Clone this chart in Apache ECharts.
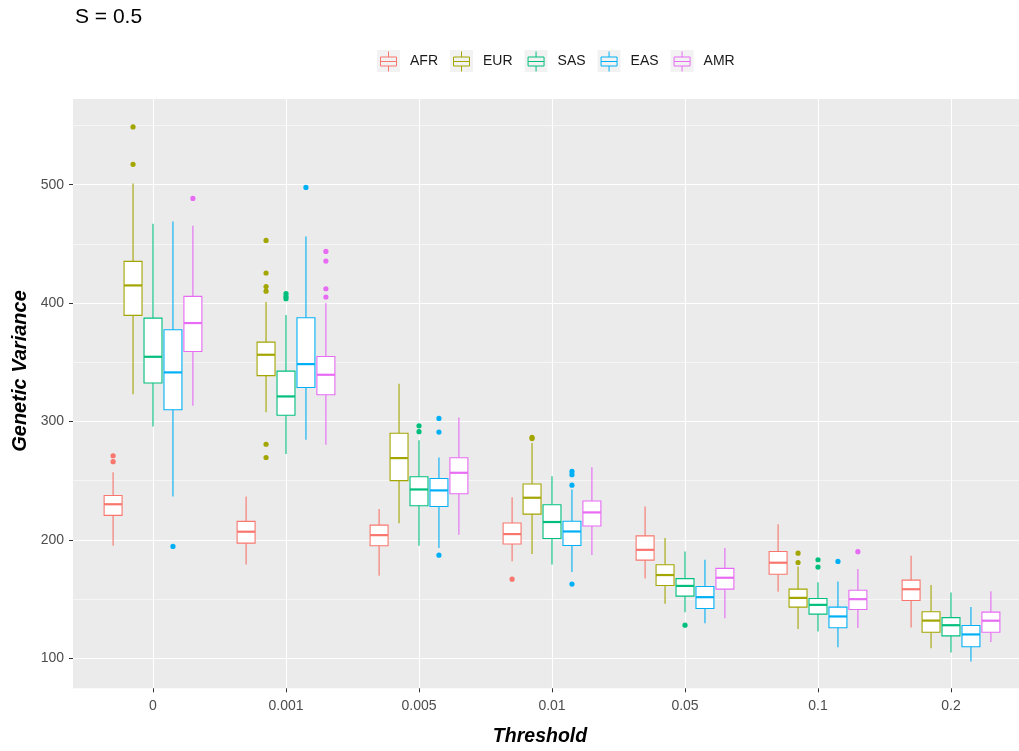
<!DOCTYPE html>
<html><head><meta charset="utf-8">
<script src="https://cdn.jsdelivr.net/npm/echarts@6/dist/echarts.min.js"></script>
<style>html,body{margin:0;padding:0;background:#fff}#c{width:1019px;height:751px}</style>
</head><body><div id="c"></div>
<script>
// ---- data ----
const categories = ['0', '0.001', '0.005', '0.01', '0.05', '0.1', '0.2'];
const groups = ['AFR', 'EUR', 'SAS', 'EAS', 'AMR'];
const colors = ['#F8766D', '#A3A500', '#00BF7D', '#00B0F6', '#E76BF3'];
const yTicks = [100, 200, 300, 400, 500];
const yMinorTicks = [150, 250, 350, 450, 550];

// [lower whisker, Q1, median, Q3, upper whisker] per threshold
const AFR = [
  [195, 220.6, 230, 237.4, 257],
  [179, 197.2, 206.8, 215.5, 236.6],
  [169.6, 194.9, 203.9, 212.4, 225.9],
  [181.8, 196.4, 204.8, 214.1, 236],
  [167.2, 182.8, 191.5, 203.3, 228.1],
  [156.1, 170.8, 180.6, 190.1, 213.1],
  [125.9, 148.7, 158.2, 165.9, 186.5]
];
const EUR = [
  [323, 389.6, 414.9, 435.2, 501],
  [307.8, 338.7, 356.3, 367, 400.9],
  [214, 250, 269, 290, 331.8],
  [187.9, 221.7, 235.5, 247.1, 281.7],
  [145.9, 161.4, 170.2, 178.9, 201.4],
  [124.5, 143.1, 150.9, 158.3, 177.5],
  [108.3, 121.9, 131.7, 139.2, 161.7]
];
const SAS = [
  [295.7, 332.4, 354.6, 387.3, 467],
  [272.4, 305.2, 321.1, 342.5, 389.8],
  [194.9, 228.7, 242.5, 253.3, 284],
  [179.1, 201.1, 215, 229.6, 253.6],
  [138.8, 152.4, 161, 167.2, 190.1],
  [122.4, 137.2, 145, 150.4, 164],
  [104.7, 118.8, 127.8, 134.2, 155.5]
];
const EAS = [
  [236.6, 309.9, 341.4, 377.5, 469],
  [284.5, 328.6, 348.4, 387.6, 456.3],
  [193, 228.1, 241.7, 251.8, 269.6],
  [172.7, 195.2, 207, 215.7, 242.5],
  [129.5, 141.9, 151.5, 160.5, 183.1],
  [109.2, 125.6, 135.2, 143.1, 164.8],
  [97.2, 109.6, 120, 127.6, 143.1]
];
const AMR = [
  [313.2, 359.1, 383.1, 405.6, 465.4],
  [280.3, 322.5, 339.4, 354.9, 400],
  [204.3, 238.9, 256.6, 269.3, 303.4],
  [187.1, 211.6, 223.1, 232.7, 261.3],
  [133.7, 158.3, 167.9, 175.8, 193.1],
  [125.4, 141.1, 149.8, 157.4, 175.2],
  [113.6, 121.9, 131.6, 138.9, 156.6]
];
// outliers: [threshold index, value]
const AFR_out = [[0, 271], [0, 266], [3, 166.7]];
const EUR_out = [[0, 548.8], [0, 517.2], [1, 452.9], [1, 425.4], [1, 414], [1, 410], [1, 280.7], [1, 269.5], [3, 286.5], [3, 285.5], [5, 188.7], [5, 180.8]];
const SAS_out = [[1, 407.9], [1, 405.5], [1, 403.7], [2, 296.3], [2, 291.3], [4, 127.8], [5, 183.1], [5, 176.9]];
const EAS_out = [[0, 194.4], [1, 497.7], [2, 302.5], [2, 291], [2, 187], [3, 257.7], [3, 255], [3, 246.1], [3, 162.6], [5, 181.7]];
const AMR_out = [[0, 488.4], [1, 443.6], [1, 435.5], [1, 412.1], [1, 405.1], [5, 189.9]];

const boxData = [AFR, EUR, SAS, EAS, AMR];
const outData = [AFR_out, EUR_out, SAS_out, EAS_out, AMR_out];

// ---- chart ----
const Y_MIN = 74.5, Y_MAX = 572.4;
const FONT = 'Liberation Sans, Arial, sans-serif';
const DODGE = 0.15, BOXW = 0.135;

function boxRenderer(gi) {
  const col = colors[gi];
  return function (params, api) {
    const cat = api.value(0);
    const band = api.size([1, 0])[0];
    const off = (gi - 2) * DODGE * band;
    const w = BOXW * band;
    const x = api.coord([cat, api.value(3)])[0] + off;
    const yLo = api.coord([cat, api.value(1)])[1];
    const yQ1 = api.coord([cat, api.value(2)])[1];
    const yMed = api.coord([cat, api.value(3)])[1];
    const yQ3 = api.coord([cat, api.value(4)])[1];
    const yHi = api.coord([cat, api.value(5)])[1];
    const ls = { stroke: col, lineWidth: 1.1 };
    return {
      type: 'group',
      children: [
        { type: 'line', shape: { x1: x, y1: yHi, x2: x, y2: yQ3 }, style: ls },
        { type: 'line', shape: { x1: x, y1: yQ1, x2: x, y2: yLo }, style: ls },
        { type: 'rect', shape: { x: x - w / 2, y: yQ3, width: w, height: yQ1 - yQ3 }, style: { fill: '#fff', stroke: col, lineWidth: 1.1 } },
        { type: 'line', shape: { x1: x - w / 2, y1: yMed, x2: x + w / 2, y2: yMed }, style: { stroke: col, lineWidth: 2.2 } }
      ]
    };
  };
}
function outlierRenderer(gi) {
  const col = colors[gi];
  return function (params, api) {
    const cat = api.value(0);
    const band = api.size([1, 0])[0];
    const p = api.coord([cat, api.value(1)]);
    return { type: 'circle', shape: { cx: p[0] + (gi - 2) * DODGE * band, cy: p[1], r: 2.6 }, style: { fill: col } };
  };
}

const series = [];
groups.forEach((g, gi) => {
  series.push({
    name: g, type: 'custom', xAxisIndex: 1, yAxisIndex: 2,
    itemStyle: { color: colors[gi] },
    encode: { x: 0, y: [1, 2, 3, 4, 5] },
    renderItem: boxRenderer(gi),
    data: boxData[gi].map((b, i) => [i].concat(b))
  });
});
groups.forEach((g, gi) => {
  series.push({
    name: g, type: 'custom', xAxisIndex: 1, yAxisIndex: 2,
    itemStyle: { color: colors[gi] },
    encode: { x: 0, y: 1 },
    renderItem: outlierRenderer(gi),
    data: outData[gi]
  });
});

// legend key glyph (22x22 frame so the glyph keeps its proportions)
const KEY = 'path://M0,0M22,22M11,1L11,6.5M3,6.5L19,6.5L19,15.5L3,15.5ZM3,11L19,11M11,15.5L11,21';
const legendBase = { left: 372, top: 45, itemWidth: 23, itemHeight: 22, itemGap: 12, selectedMode: false };

const option = {
  animation: false,
  backgroundColor: '#fff',
  title: {
    text: 'S = 0.5', left: 70, top: 2,
    textStyle: { fontSize: 21, fontWeight: 'normal', color: '#000', fontFamily: FONT }
  },
  legend: [
    Object.assign({}, legendBase, {
      z: 2,
      data: groups.map(g => ({ name: g, icon: 'rect', itemStyle: { color: '#F2F2F2', borderWidth: 0 } })),
      textStyle: { fontSize: 14, color: 'rgba(0,0,0,0)', fontFamily: FONT, padding: [0, 0, 0, 5] }
    }),
    Object.assign({}, legendBase, {
      z: 3,
      data: groups.map((g, i) => ({ name: g, icon: KEY, itemStyle: { color: 'rgba(0,0,0,0)', borderColor: colors[i], borderWidth: 1 } })),
      textStyle: { fontSize: 14, color: '#1A1A1A', fontFamily: FONT, padding: [0, 0, 0, 5] }
    })
  ],
  grid: [
    { left: 73, right: 0, top: 99, bottom: 62.7, show: true, backgroundColor: '#EBEBEB', borderWidth: 0 },
    { left: 86.5, width: 931, top: 99, bottom: 62.7, show: false }
  ],
  xAxis: [
    { gridIndex: 0, type: 'value', show: false, min: 0, max: 1 },
    {
      gridIndex: 1, type: 'category', data: categories,
      axisLine: { show: false },
      axisTick: { show: true, alignWithLabel: true, length: 4, lineStyle: { color: '#333', width: 1 } },
      axisLabel: { color: '#4D4D4D', fontSize: 14, fontFamily: FONT, margin: 11 },
      splitLine: { show: true, alignWithLabel: true, interval: 0, lineStyle: { color: '#fff', width: 1.1 } }
    }
  ],
  yAxis: [
    {
      gridIndex: 0, type: 'value', min: Y_MIN, max: Y_MAX,
      axisLine: { show: false },
      axisTick: { show: true, length: 4, customValues: yTicks, lineStyle: { color: '#333', width: 1 } },
      axisLabel: { customValues: yTicks, color: '#4D4D4D', fontSize: 14, fontFamily: FONT, margin: 9 },
      splitLine: { show: true, lineStyle: { color: '#fff', width: 1.1 } }
    },
    {
      gridIndex: 0, type: 'value', min: Y_MIN, max: Y_MAX, position: 'right',
      axisLine: { show: false },
      axisTick: { show: false, customValues: yMinorTicks },
      axisLabel: { show: false },
      splitLine: { show: true, lineStyle: { color: '#fff', width: 0.55 } }
    },
    { gridIndex: 1, type: 'value', min: Y_MIN, max: Y_MAX, show: false }
  ],
  graphic: [
    { type: 'text', x: 20, y: 371, rotation: Math.PI / 2,
      style: { text: 'Genetic Variance', align: 'center', verticalAlign: 'middle', font: 'italic bold 20px ' + FONT, fill: '#000' } },
    { type: 'text', x: 540, y: 737,
      style: { text: 'Threshold', align: 'center', verticalAlign: 'middle', font: 'italic bold 19.5px ' + FONT, fill: '#000' } }
  ],
  series: series
};
const chart = echarts.init(document.getElementById('c'), null, { renderer: 'canvas' });
chart.setOption(option);
</script></body></html>
